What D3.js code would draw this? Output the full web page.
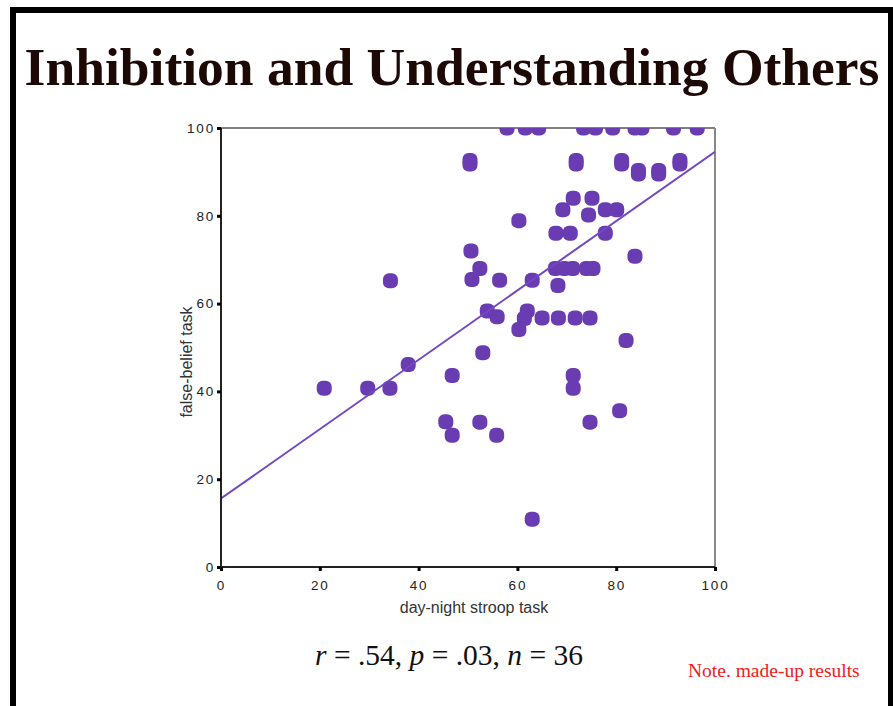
<!DOCTYPE html>
<html>
<head>
  <meta charset="utf-8">
  <title>Inhibition and Understanding Others</title>
  <script src="https://cdn.jsdelivr.net/npm/d3@7/dist/d3.min.js"></script>
  <style>
    body { margin: 0; background: #fff; }
    svg { display: block; }
    .axis text {
      font-family: "Liberation Sans", Arial, sans-serif;
      font-size: 13.5px;
      letter-spacing: 1.8px;
      fill: #222;
    }
    .axis line { stroke: #000; stroke-width: 3px; }
    .axis path { display: none; }
  </style>
</head>
<body>
<div id="chart-area"></div>
<script>
// day-night stroop score (x) and false-belief score (y), one entry per child
const stroop = [
  57.9, 61.6, 64.3, 73.4, 75.8, 79.3, 83.8, 85.2, 91.6, 96.4,
  50.4, 50.4, 71.9, 71.9, 81.1, 81.1, 92.9, 92.9,
  84.5, 84.5, 88.6, 88.6,
  71.3, 75.1, 69.2, 77.8, 80.1, 74.4, 60.3,
  67.8, 70.7, 77.8, 50.6, 83.8,
  52.4, 67.7, 69.5, 71.2, 74.0, 75.3,
  34.3, 50.8, 56.4, 63.0, 68.2,
  53.9, 62.0, 55.9, 61.4, 65.0, 68.3, 71.7, 74.7,
  60.3, 82.0, 53.0, 37.9, 46.8, 71.3,
  20.9, 29.7, 34.2, 71.3, 80.7,
  45.5, 52.4, 74.7, 46.8, 55.8, 63.0
];
const falseBelief = [
  100, 100, 100, 100, 100, 100, 100, 100, 100, 100,
  92.6, 91.8, 92.6, 91.8, 92.6, 91.8, 92.6, 91.8,
  90.3, 89.5, 90.3, 89.5,
  84.0, 84.0, 81.4, 81.4, 81.4, 80.2, 78.9,
  76.0, 76.0, 76.0, 72.0, 70.8,
  68.0, 68.0, 68.0, 68.0, 68.0, 68.0,
  65.2, 65.5, 65.3, 65.3, 64.1,
  58.3, 58.3, 57.0, 56.6, 56.7, 56.7, 56.7, 56.7,
  54.1, 51.6, 48.8, 46.1, 43.6, 43.6,
  40.7, 40.7, 40.7, 40.7, 35.6,
  33.1, 33.0, 33.0, 30.0, 30.0, 10.9
];
const xTicks = [0, 20, 40, 60, 80, 100];
const yTicks = [0, 20, 40, 60, 80, 100];
const fitX = [0, 100];
const fitY = [15.6, 94.6];

const width = 893;
const height = 706;
const plot = { left: 221, right: 715, top: 128, bottom: 567 };

const svg = d3.select("#chart-area")
  .append("svg")
    .attr("width", width)
    .attr("height", height);

// black slide frame
svg.append("rect").attr("x", 10).attr("y", 7).attr("width", 883).attr("height", 6).attr("fill", "#000");
svg.append("rect").attr("x", 10).attr("y", 7).attr("width", 6).attr("height", height - 7).attr("fill", "#000");
svg.append("rect").attr("x", 888).attr("y", 7).attr("width", 5).attr("height", height - 7).attr("fill", "#000");

svg.append("text")
  .attr("x", 452)
  .attr("y", 85)
  .attr("text-anchor", "middle")
  .style("font-family", "'Liberation Serif', 'Times New Roman', serif")
  .style("font-weight", "bold")
  .style("font-size", "53.5px")
  .style("fill", "#1c0804")
  .text("Inhibition and Understanding Others");

const x = d3.scaleLinear().domain([0, 100]).range([plot.left, plot.right]);
const y = d3.scaleLinear().domain([0, 100]).range([plot.bottom, plot.top]);

svg.append("defs").append("clipPath")
  .attr("id", "plot-clip")
  .append("rect")
    .attr("x", plot.left)
    .attr("y", plot.top)
    .attr("width", plot.right - plot.left)
    .attr("height", plot.bottom - plot.top);

// frame: grey top/right, dark axes
svg.append("line").attr("x1", plot.left).attr("x2", plot.right).attr("y1", plot.top).attr("y2", plot.top)
  .attr("stroke", "#555").attr("stroke-width", 1.5);
svg.append("line").attr("x1", plot.right).attr("x2", plot.right).attr("y1", plot.top).attr("y2", plot.bottom)
  .attr("stroke", "#888").attr("stroke-width", 2);

const g = svg.append("g").attr("clip-path", "url(#plot-clip)");

g.selectAll("rect.dot")
  .data(stroop.map((s, i) => ({ s, f: falseBelief[i] })))
  .enter().append("rect")
    .attr("class", "dot")
    .attr("x", d => x(d.s) - 7.5)
    .attr("y", d => y(d.f) - 7.5)
    .attr("width", 15)
    .attr("height", 15)
    .attr("rx", 6)
    .attr("fill", "#6a3cb2");

g.append("path")
  .datum(fitX.map((v, i) => [v, fitY[i]]))
  .attr("fill", "none")
  .attr("stroke", "#7447c2")
  .attr("stroke-width", 2)
  .attr("d", d3.line().x(d => x(d[0])).y(d => y(d[1])));

svg.append("line").attr("x1", plot.left).attr("x2", plot.left).attr("y1", plot.top).attr("y2", plot.bottom)
  .attr("stroke", "#222").attr("stroke-width", 2);
svg.append("line").attr("x1", plot.left).attr("x2", plot.right).attr("y1", plot.bottom).attr("y2", plot.bottom)
  .attr("stroke", "#222").attr("stroke-width", 2);

svg.append("g")
  .attr("class", "axis")
  .attr("transform", `translate(0,${plot.bottom})`)
  .call(d3.axisBottom(x).tickValues(xTicks).tickSize(4).tickPadding(9));

svg.append("g")
  .attr("class", "axis")
  .attr("transform", `translate(${plot.left},0)`)
  .call(d3.axisLeft(y).tickValues(yTicks).tickSize(4).tickPadding(2));

svg.append("text")
  .attr("x", 474)
  .attr("y", 613)
  .attr("text-anchor", "middle")
  .style("font-family", "'Liberation Sans', Arial, sans-serif")
  .style("font-size", "16px")
  .style("fill", "#333")
  .text("day-night stroop task");

svg.append("text")
  .attr("transform", "translate(192,362) rotate(-90)")
  .attr("text-anchor", "middle")
  .style("font-family", "'Liberation Sans', Arial, sans-serif")
  .style("font-size", "16px")
  .style("fill", "#333")
  .text("false-belief task");

const stats = svg.append("text")
  .attr("x", 449)
  .attr("y", 665)
  .attr("text-anchor", "middle")
  .style("font-family", "'Liberation Serif', 'Times New Roman', serif")
  .style("font-size", "29.5px")
  .style("fill", "#111");
[["r", true], [" = .54, ", false], ["p", true], [" = .03, ", false], ["n", true], [" = 36", false]]
  .forEach(([t, it]) => stats.append("tspan").style("font-style", it ? "italic" : "normal").text(t));

svg.append("text")
  .attr("x", 688)
  .attr("y", 677)
  .style("font-family", "'Liberation Serif', 'Times New Roman', serif")
  .style("font-size", "19.5px")
  .style("fill", "#f02020")
  .text("Note. made-up results");
</script>
</body>
</html>
